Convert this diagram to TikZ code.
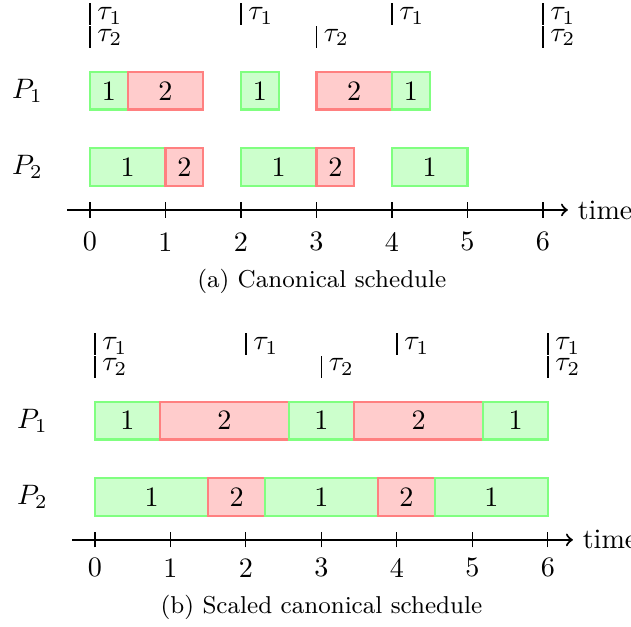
\documentclass[tikz,border=0pt]{standalone}
\usepackage{fix-cm}
\begin{document}
\begin{tikzpicture}[
        every node/.style={
            font=\fontsize{10.6}{12.7}\selectfont
        },
        taskone/.style={
            rectangle,
            draw=green!50,
            fill=green!20,
            thick,
            minimum height=0.5cm,
            inner sep=0pt
        },
        tasktwo/.style={
            rectangle,
            draw=red!50,
            fill=red!20,
            thick,
            minimum height=0.5cm,
            inner sep=0pt
        },
        release/.style={semithick},
        rellabel/.style={anchor=west, inner xsep=2.6pt, inner ysep=0pt},
        axis/.style={->, thick},
        caption/.style={font=\fontsize{9.2}{11}\selectfont}
    ]

        \useasboundingbox (-1.192,-5.523) rectangle (7.166,2.781);

        % (a) canonical schedule
        \node (pa) at (-0.83,1.58) {$P_1$};
        \node (pb) at (-0.83,0.57) {$P_2$};

        \draw[release] (0,2.45) -- (0,2.74);
        \draw[release] (0,2.15) -- (0,2.44);
        \draw[release] (2,2.45) -- (2,2.74);
        \draw[release] (3,2.15) -- (3,2.44);
        \draw[release] (4,2.45) -- (4,2.74);
        \draw[release] (6,2.45) -- (6,2.74);
        \draw[release] (6,2.15) -- (6,2.44);
        \node[rellabel] (ra0) at (0,2.57) {$\tau_1$};
        \node[rellabel] (rb0) at (0,2.29) {$\tau_2$};
        \node[rellabel] (ra2) at (2,2.57) {$\tau_1$};
        \node[rellabel] (rb3) at (3,2.29) {$\tau_2$};
        \node[rellabel] (ra4) at (4,2.57) {$\tau_1$};
        \node[rellabel] (ra6) at (6,2.57) {$\tau_1$};
        \node[rellabel] (rb6) at (6,2.29) {$\tau_2$};

        \node[taskone, minimum width=0.5cm] (a1) at (0.25,1.58) {1};
        \node[tasktwo, minimum width=1cm] (a2) at (1,1.58) {2};
        \node[taskone, minimum width=0.5cm] (a3) at (2.25,1.58) {1};
        \node[tasktwo, minimum width=1cm] (a4) at (3.5,1.58) {2};
        \node[taskone, minimum width=0.5cm] (a5) at (4.25,1.58) {1};

        \node[taskone, minimum width=1cm] (b1) at (0.5,0.57) {1};
        \node[tasktwo, minimum width=0.5cm] (b2) at (1.25,0.57) {2};
        \node[taskone, minimum width=1cm] (b3) at (2.5,0.57) {1};
        \node[tasktwo, minimum width=0.5cm] (b4) at (3.25,0.57) {2};
        \node[taskone, minimum width=1cm] (b5) at (4.5,0.57) {1};

        \draw[axis] (-0.3,0) -- (6.33,0) node[right] (timea) {time};
        \foreach \t in {0,...,6} {
            \draw (\t,-0.1) -- (\t,0.1);
            \node (ta\t) at (\t,-0.42) {\t};
        }
        \node[caption] (capa) at (3.07,-0.94) {(a) Canonical schedule};

        % (b) scaled canonical schedule
        \begin{scope}[shift={(0.066,-4.37)}]
            \node (pc) at (-0.83,1.58) {$P_1$};
            \node (pd) at (-0.83,0.57) {$P_2$};

            \draw[release] (0,2.45) -- (0,2.74);
            \draw[release] (0,2.15) -- (0,2.44);
            \draw[release] (2,2.45) -- (2,2.74);
            \draw[release] (3,2.15) -- (3,2.44);
            \draw[release] (4,2.45) -- (4,2.74);
            \draw[release] (6,2.45) -- (6,2.74);
            \draw[release] (6,2.15) -- (6,2.44);
            \node[rellabel] (rc0) at (0,2.57) {$\tau_1$};
            \node[rellabel] (rd0) at (0,2.29) {$\tau_2$};
            \node[rellabel] (rc2) at (2,2.57) {$\tau_1$};
            \node[rellabel] (rd3) at (3,2.29) {$\tau_2$};
            \node[rellabel] (rc4) at (4,2.57) {$\tau_1$};
            \node[rellabel] (rc6) at (6,2.57) {$\tau_1$};
            \node[rellabel] (rd6) at (6,2.29) {$\tau_2$};

            \node[taskone, minimum width=0.857cm] (c1) at (0.4286,1.58) {1};
            \node[tasktwo, minimum width=1.714cm] (c2) at (1.714,1.58) {2};
            \node[taskone, minimum width=0.857cm] (c3) at (3,1.58) {1};
            \node[tasktwo, minimum width=1.714cm] (c4) at (4.286,1.58) {2};
            \node[taskone, minimum width=0.857cm] (c5) at (5.571,1.58) {1};

            \node[taskone, minimum width=1.5cm] (d1) at (0.75,0.57) {1};
            \node[tasktwo, minimum width=0.75cm] (d2) at (1.875,0.57) {2};
            \node[taskone, minimum width=1.5cm] (d3) at (3,0.57) {1};
            \node[tasktwo, minimum width=0.75cm] (d4) at (4.125,0.57) {2};
            \node[taskone, minimum width=1.5cm] (d5) at (5.25,0.57) {1};

            \draw[axis] (-0.3,0) -- (6.33,0) node[right] (timeb) {time};
            \foreach \t in {0,...,6} {
                \draw (\t,-0.1) -- (\t,0.1);
                \node (tb\t) at (\t,-0.37) {\t};
            }
            \node[caption] (capb) at (3.0,-0.9) {(b) Scaled canonical schedule};
        \end{scope}

    \end{tikzpicture}
\end{document}
